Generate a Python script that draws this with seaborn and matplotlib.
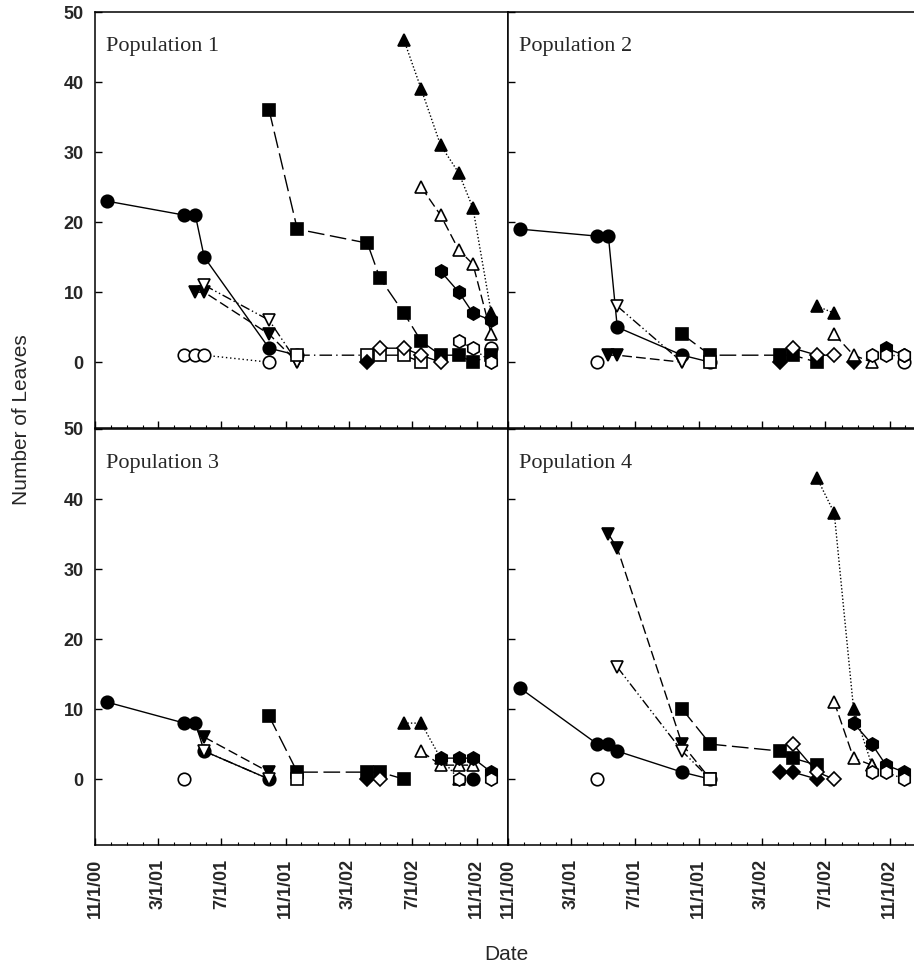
import numpy as np
import pandas as pd
import matplotlib
matplotlib.use("Agg")
import matplotlib.pyplot as plt
import matplotlib.dates as mdates
from matplotlib.ticker import FuncFormatter
import seaborn as sns

N = None
# common sampling dates
DATES = ['2000-11-24', '2001-04-21', '2001-05-12', '2001-05-29', '2001-09-30',
         '2001-11-23', '2002-04-06', '2002-04-30', '2002-06-15', '2002-07-18',
         '2002-08-24', '2002-09-28', '2002-10-25', '2002-11-29']

# Population 1
p1_s1 = [23, 21, 21, 15, 2, 1, N, N, N, N, N, N, N, N]
p1_s2 = [N, 1, 1, 1, 0, N, N, N, N, N, N, N, N, 2]
p1_s3 = [N, N, 10, 10, 4, 0, N, N, N, N, N, N, N, N]
p1_s4 = [N, N, N, 11, 6, 0, N, N, N, N, N, N, N, N]
p1_s5 = [N, N, N, N, 36, 19, 17, 12, 7, 3, 1, 1, 0, 1]
p1_s6 = [N, N, N, N, N, 1, 1, 1, 1, 0, N, N, N, N]
p1_s7 = [N, N, N, N, N, N, 0, N, N, N, N, N, N, N]
p1_s8 = [N, N, N, N, N, N, N, 2, 2, 1, 0, N, N, N]
p1_s9 = [N, N, N, N, N, N, N, N, 46, 39, 31, 27, 22, 7]
p1_s10 = [N, N, N, N, N, N, N, N, N, 25, 21, 16, 14, 4]
p1_s11 = [N, N, N, N, N, N, N, N, N, N, 13, 10, 7, 6]
p1_s12 = [N, N, N, N, N, N, N, N, N, N, N, 3, 2, 0]

# Population 2
p2_s1 = [19, 18, 18, 5, 1, 0, N, N, N, N, N, N, N, N]
p2_s2 = [N, 0, N, N, N, N, N, N, N, N, N, N, N, 0]
p2_s3 = [N, N, 1, 1, 0, N, N, N, N, N, N, N, N, N]
p2_s4 = [N, N, N, 8, 0, N, N, N, N, N, N, N, N, N]
p2_s5 = [N, N, N, N, 4, 1, 1, 1, 0, N, N, N, N, N]
p2_s6 = [N, N, N, N, N, 0, N, N, N, N, N, N, N, N]
p2_s7 = [N, N, N, N, N, N, 0, N, N, N, 0, N, N, N]
p2_s8 = [N, N, N, N, N, N, N, 2, 1, 1, N, N, N, N]
p2_s9 = [N, N, N, N, N, N, N, N, 8, 7, N, N, N, N]
p2_s10 = [N, N, N, N, N, N, N, N, N, 4, 1, 0, N, N]
p2_s11 = [N, N, N, N, N, N, N, N, N, N, N, N, 2, 1]
p2_s12 = [N, N, N, N, N, N, N, N, N, N, N, 1, 1, 1]

# Population 3
p3_s1 = [11, 8, 8, 4, 0, N, N, N, N, N, N, N, 0, N]
p3_s2 = [N, 0, N, N, N, N, N, N, N, N, N, N, N, N]
p3_s3 = [N, N, N, 6, 1, N, N, N, N, N, N, N, N, N]
p3_s4 = [N, N, N, 4, 0, N, N, N, N, N, N, N, N, N]
p3_s5 = [N, N, N, N, 9, 1, 1, 1, 0, N, N, N, N, N]
p3_s6 = [N, N, N, N, N, 0, N, N, N, N, N, N, N, N]
p3_s7 = [N, N, N, N, N, N, 0, N, N, N, N, N, N, N]
p3_s8 = [N, N, N, N, N, N, N, 0, N, N, N, N, N, N]
p3_s9 = [N, N, N, N, N, N, N, N, 8, 8, 3, 0, N, N]
p3_s10 = [N, N, N, N, N, N, N, N, N, 4, 2, 2, 2, N]
p3_s11 = [N, N, N, N, N, N, N, N, N, N, 3, 3, 3, 1]
p3_s12 = [N, N, N, N, N, N, N, N, N, N, N, 0, N, 0]

# Population 4
p4_s1 = [13, 5, 5, 4, 1, 0, N, N, N, N, N, N, N, N]
p4_s2 = [N, 0, N, N, N, N, N, N, N, N, N, N, N, N]
p4_s3 = [N, N, 35, 33, 5, 0, N, N, N, N, N, N, N, N]
p4_s4 = [N, N, N, 16, 4, 0, N, N, N, N, N, N, N, N]
p4_s5 = [N, N, N, N, 10, 5, 4, 3, 2, N, N, N, N, N]
p4_s6 = [N, N, N, N, N, 0, N, N, N, N, N, N, N, N]
p4_s7 = [N, N, N, N, N, N, 1, 1, 0, N, N, N, N, N]
p4_s8 = [N, N, N, N, N, N, N, 5, 1, 0, N, N, N, N]
p4_s9 = [N, N, N, N, N, N, N, N, 43, 38, 10, 2, N, N]
p4_s10 = [N, N, N, N, N, N, N, N, N, 11, 3, 2, N, N]
p4_s11 = [N, N, N, N, N, N, N, N, N, N, 8, 5, 2, 1]
p4_s12 = [N, N, N, N, N, N, N, N, N, N, N, 1, 1, 0]

TITLES = ['Population 1', 'Population 2', 'Population 3', 'Population 4']
PANELS = [
    [p1_s1, p1_s2, p1_s3, p1_s4, p1_s5, p1_s6, p1_s7, p1_s8, p1_s9, p1_s10, p1_s11, p1_s12],
    [p2_s1, p2_s2, p2_s3, p2_s4, p2_s5, p2_s6, p2_s7, p2_s8, p2_s9, p2_s10, p2_s11, p2_s12],
    [p3_s1, p3_s2, p3_s3, p3_s4, p3_s5, p3_s6, p3_s7, p3_s8, p3_s9, p3_s10, p3_s11, p3_s12],
    [p4_s1, p4_s2, p4_s3, p4_s4, p4_s5, p4_s6, p4_s7, p4_s8, p4_s9, p4_s10, p4_s11, p4_s12],
]

# styles (marker, filled, linestyle, markersize)
STYLES = [
    ('o', True, '-', 9.0),
    ('o', False, (0, (1, 2)), 9.0),
    ('v', True, (0, (7, 3)), 9.0),
    ('v', False, (0, (7, 2, 1, 2, 1, 2)), 9.0),
    ('s', True, (0, (12, 4)), 8.0),
    ('s', False, (0, (9, 3, 1, 3)), 8.0),
    ('D', True, '-', 7.5),
    ('D', False, '-', 7.5),
    ('^', True, (0, (1, 1.5)), 9.0),
    ('^', False, (0, (7, 3)), 9.0),
    ('h', True, '-', 9.5),
    ('h', False, (0, (1, 2)), 9.5),
]

sns.set_theme(style='white')
plt.rcParams['font.family'] = ['Liberation Sans', 'DejaVu Sans']
plt.rcParams['axes.edgecolor'] = 'black'
plt.rcParams['axes.linewidth'] = 1.1

fig = plt.figure(figsize=(9.14, 9.71), dpi=100)
L0, L1 = 0.1039, 0.5558
B0, B1 = 0.5592, 0.1298
W = 0.4519
H = 0.4284
pos = [(L0, B0), (L1, B0), (L0, B1), (L1, B1)]

dates = pd.to_datetime(DATES)


def date_fmt(x, p):
    d = mdates.num2date(x)
    return f"{d.month}/{d.day}/{d.strftime('%y')}"


for i, (series, title) in enumerate(zip(PANELS, TITLES)):
    ax = fig.add_axes([pos[i][0], pos[i][1], W, H])
    for vals, (mk, filled, ls, ms) in zip(series, STYLES):
        df = pd.DataFrame({'date': dates,
                           'leaves': pd.array(vals, dtype='Float64').astype(float)})
        seg = df['leaves'].isna().cumsum()
        ok = df['leaves'].notna()
        for _, part in df[ok].groupby(seg[ok]):
            sns.lineplot(data=part, x='date', y='leaves', ax=ax, color='black',
                         marker=mk, markersize=ms,
                         markerfacecolor='black' if filled else 'white',
                         markeredgecolor='black', markeredgewidth=1.2,
                         linestyle=ls, linewidth=1.0, estimator=None,
                         sort=False, legend=False, errorbar=None)
    ax.set_xlim(pd.Timestamp('2000-11-01'), pd.Timestamp('2002-12-31'))
    ax.set_ylim(-9.4, 50)
    ax.set_yticks(range(0, 51, 10))
    ax.xaxis.set_major_locator(mdates.MonthLocator(bymonth=[3, 7, 11]))
    ax.xaxis.set_minor_locator(mdates.MonthLocator())
    ax.xaxis.set_major_formatter(FuncFormatter(date_fmt))
    ax.tick_params(axis='both', which='major', direction='in', length=5,
                   width=1, color='black', labelsize=13, pad=8)
    ax.tick_params(axis='x', which='minor', direction='in', length=2.5,
                   width=0.8, color='black')
    ax.tick_params(axis='y', which='both', left=True, right=False)
    ax.tick_params(axis='x', which='both', bottom=True, top=False)
    ax.set_xlabel('')
    ax.set_ylabel('')
    for lab in ax.get_yticklabels():
        lab.set_fontweight('bold')
    if i % 2 == 1:
        ax.tick_params(axis='y', labelleft=False)
    if i < 2:
        ax.tick_params(axis='x', labelbottom=False)
    else:
        ax.tick_params(axis='x', labelrotation=90, pad=10)
        for lab in ax.get_xticklabels():
            lab.set_fontweight('bold')
    for sp in ax.spines.values():
        sp.set_color('black')
        sp.set_linewidth(1.1)
    ax.text(0.027, 0.94, title, transform=ax.transAxes, ha='left', va='top',
            fontsize=16, family=['Liberation Serif', 'DejaVu Serif'])

fig.text(0.023, 0.5675, 'Number of Leaves', rotation=90, ha='center', va='center',
         fontsize=15, family=['Liberation Sans Narrow', 'Liberation Sans', 'DejaVu Sans'])
fig.text(0.5536, 0.0165, 'Date', ha='center', va='center', fontsize=15,
         family=['Liberation Sans Narrow', 'Liberation Sans', 'DejaVu Sans'])

fig.savefig('out.png', dpi=100)
